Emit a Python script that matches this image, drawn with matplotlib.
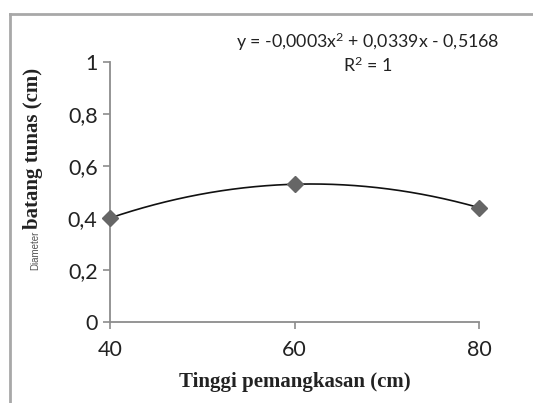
import numpy as np
import matplotlib
matplotlib.use('Agg')
import matplotlib.pyplot as plt
from matplotlib.lines import Line2D

# data
tinggi = [40, 60, 80]
diameter = [0.40, 0.53, 0.44]
x_ticks = [40, 60, 80]
y_ticks = [0, 0.2, 0.4, 0.6, 0.8, 1.0]
y_tick_labels = ['0', '0,2', '0,4', '0,6', '0,8', '1']
eq_text = r'y = -0,0003x$^{2}$ + 0,0339x - 0,5168'
r2_text = r'R$^{2}$ = 1'

GRAY = '#8c8c8c'
MARK = '#666666'
TICK_FONT = 'Lato'
LABEL_FONT = 'Liberation Serif'

plt.rcParams['mathtext.fontset'] = 'custom'
plt.rcParams['mathtext.rm'] = TICK_FONT
plt.rcParams['mathtext.it'] = TICK_FONT
plt.rcParams['mathtext.default'] = 'rm'

fig = plt.figure(figsize=(5.33, 4.03), dpi=100, facecolor='white')
ax = fig.add_axes([0.2064, 0.201, 0.6923, 0.645])

# polynomial trendline (order 2) through the points
coef = np.polyfit(tinggi, diameter, 2)
xs = np.linspace(tinggi[0], tinggi[-1], 200)
ax.plot(xs, np.polyval(coef, xs), color='#111111', linewidth=1.2, zorder=2)
ax.plot(tinggi, diameter, linestyle='none', marker='D', markersize=8.5,
        color=MARK, markeredgecolor=MARK, zorder=3, clip_on=False)

ax.set_xlim(40, 80)
ax.set_ylim(0, 1)
ax.set_xticks(x_ticks)
ax.set_xticklabels([str(v) for v in x_ticks])
ax.set_yticks(y_ticks)
ax.set_yticklabels(y_tick_labels)

for sp in ['top', 'right']:
    ax.spines[sp].set_visible(False)
for sp in ['left', 'bottom']:
    ax.spines[sp].set_color(GRAY)
    ax.spines[sp].set_linewidth(1.3)
ax.tick_params(direction='out', length=5, width=1.2, color=GRAY,
               labelsize=15.5, labelcolor='#222222', pad=4)
ax.tick_params(axis='x', pad=8)
for lab in ax.get_xticklabels() + ax.get_yticklabels():
    lab.set_fontfamily(TICK_FONT)

# equation box text
fig.text(368 / 533, 1 - 42 / 403, eq_text, ha='center', va='center',
         fontsize=12.8, family=TICK_FONT, color='#222222')
fig.text(368 / 533, 1 - 65 / 403, r2_text, ha='center', va='center',
         fontsize=12.8, family=TICK_FONT, color='#222222')

# axis titles
fig.text(295 / 533, 1 - 382 / 403, 'Tinggi pemangkasan (cm)', ha='center',
         va='center', fontsize=15, fontweight='bold', family=LABEL_FONT,
         color='#222222')
fig.text(33 / 533, 1 - 229 / 403, 'batang tunas (cm)', ha='center',
         va='bottom', rotation=90, fontsize=15, fontweight='bold',
         family=LABEL_FONT, color='#222222')
fig.text(35 / 533, 1 - 231 / 403, 'Diameter', ha='center', va='top',
         rotation=90, fontsize=7, family='Liberation Sans',
         color='#555555')

# outer chart-area frame (left and top edges visible)
fig.add_artist(Line2D([10 / 533, 10 / 533], [0, 1 - 14 / 403],
                      transform=fig.transFigure, color='#a8a8a8', linewidth=2))
fig.add_artist(Line2D([10 / 533, 1], [1 - 14 / 403, 1 - 14 / 403],
                      transform=fig.transFigure, color='#a8a8a8', linewidth=2))

fig.savefig('out.png', dpi=100, facecolor='white')
